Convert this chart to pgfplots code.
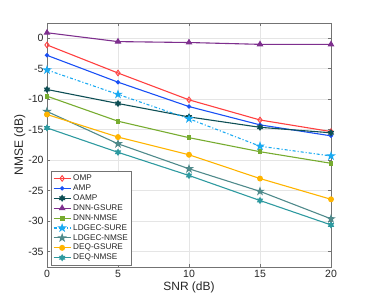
\documentclass[border=0pt]{standalone}
\usepackage{fontspec}
\setmainfont{Liberation Sans}
\usepackage{pgfplots}
\pgfplotsset{compat=1.18}
\usetikzlibrary{plotmarks,calc}
\definecolor{cOMP}{HTML}{FF4040}
\definecolor{cAMP}{HTML}{1A50F5}
\definecolor{cOAMP}{HTML}{0E4F55}
\definecolor{cDG}{HTML}{7E2F8E}
\definecolor{cDN}{HTML}{77AC30}
\definecolor{cLS}{HTML}{1AAAF2}
\definecolor{cLN}{HTML}{4F8A8B}
\definecolor{cQG}{HTML}{FFB400}
\definecolor{cQN}{HTML}{2E9AA0}
\pgfdeclareplotmark{fstar}{%
  \pgfpathmoveto{\pgfpointpolar{90}{1.3\pgfplotmarksize}}%
  \pgfpathlineto{\pgfpointpolar{126}{0.5\pgfplotmarksize}}%
  \pgfpathlineto{\pgfpointpolar{162}{1.3\pgfplotmarksize}}%
  \pgfpathlineto{\pgfpointpolar{198}{0.5\pgfplotmarksize}}%
  \pgfpathlineto{\pgfpointpolar{234}{1.3\pgfplotmarksize}}%
  \pgfpathlineto{\pgfpointpolar{270}{0.5\pgfplotmarksize}}%
  \pgfpathlineto{\pgfpointpolar{306}{1.3\pgfplotmarksize}}%
  \pgfpathlineto{\pgfpointpolar{342}{0.5\pgfplotmarksize}}%
  \pgfpathlineto{\pgfpointpolar{18}{1.3\pgfplotmarksize}}%
  \pgfpathlineto{\pgfpointpolar{54}{0.5\pgfplotmarksize}}%
  \pgfpathclose\pgfusepathqfillstroke}
\pgfdeclareplotmark{hstar}{%
  \pgfpathmoveto{\pgfpointpolar{90}{1.2\pgfplotmarksize}}%
  \pgfpathlineto{\pgfpointpolar{120}{0.7\pgfplotmarksize}}%
  \pgfpathlineto{\pgfpointpolar{150}{1.2\pgfplotmarksize}}%
  \pgfpathlineto{\pgfpointpolar{180}{0.7\pgfplotmarksize}}%
  \pgfpathlineto{\pgfpointpolar{210}{1.2\pgfplotmarksize}}%
  \pgfpathlineto{\pgfpointpolar{240}{0.7\pgfplotmarksize}}%
  \pgfpathlineto{\pgfpointpolar{270}{1.2\pgfplotmarksize}}%
  \pgfpathlineto{\pgfpointpolar{300}{0.7\pgfplotmarksize}}%
  \pgfpathlineto{\pgfpointpolar{330}{1.2\pgfplotmarksize}}%
  \pgfpathlineto{\pgfpointpolar{0}{0.7\pgfplotmarksize}}%
  \pgfpathlineto{\pgfpointpolar{30}{1.2\pgfplotmarksize}}%
  \pgfpathlineto{\pgfpointpolar{60}{0.7\pgfplotmarksize}}%
  \pgfpathclose\pgfusepathqfillstroke}
\begin{document}
\begin{tikzpicture}
\begin{axis}[
  name=ax,
  scale only axis,
  width=284pt, height=244pt,
  xmin=0, xmax=20, ymin=-37.5, ymax=2.5,
  xtick={0,5,10,15,20},
  ytick={-35,-30,-25,-20,-15,-10,-5,0},
  tick align=inside,
  tick pos=both,
  major tick length=3pt,
  grid=major,
  major grid style={draw=black!10, line width=0.5pt},
  axis line style={draw=black!55, line width=0.6pt},
  tick style={draw=black!55, line width=0.6pt},
  ticklabel style={font=\fontsize{10.5}{12}\selectfont, text=black!85},
  /pgf/number format/assume math mode=true,
  xlabel={SNR (dB)}, ylabel={NMSE (dB)},
  label style={font=\fontsize{12}{14}\selectfont, text=black!85},
  xlabel style={yshift=3pt},
  ylabel style={yshift=-4pt},
  every axis plot/.append style={line width=1.1pt, mark size=2.2pt},
  legend style={at={(axis cs:0.3,-37.2)}, anchor=south west,
    font=\fontsize{8.2}{10}\selectfont, draw=black!55, line width=0.6pt,
    fill=white, inner sep=1.5pt, row sep=-1.3pt,
    legend cell align=left, text=black!85},
  legend image post style={line width=1.1pt},
]
\addplot[color=cOMP, mark=diamond, mark options={solid, fill=white, line width=0.9pt}, mark size=2.8pt] coordinates {(0,-1.1) (5,-5.7) (10,-10.1) (15,-13.4) (20,-15.3)};
\addlegendentry{OMP}
\addplot[color=cAMP, mark=*, mark options={solid}, mark size=1.6pt] coordinates {(0,-2.8) (5,-7.2) (10,-11.2) (15,-14.2) (20,-16.0)};
\addlegendentry{AMP}
\addplot[color=cOAMP, mark=hstar, mark options={solid}] coordinates {(0,-8.4) (5,-10.7) (10,-12.9) (15,-14.6) (20,-15.5)};
\addlegendentry{OAMP}
\addplot[color=cDG, mark=triangle*, mark options={solid}, mark size=2.8pt] coordinates {(0,0.9) (5,-0.55) (10,-0.7) (15,-1.0) (20,-1.0)};
\addlegendentry{DNN-GSURE}
\addplot[color=cDN, mark=square*, mark options={solid}, mark size=1.9pt] coordinates {(0,-9.5) (5,-13.6) (10,-16.3) (15,-18.6) (20,-20.5)};
\addlegendentry{DNN-NMSE}
\addplot[color=cLS, dash dot, mark=fstar, mark options={solid}, mark size=2.5pt] coordinates {(0,-5.2) (5,-9.2) (10,-13.2) (15,-17.7) (20,-19.3)};
\addlegendentry{LDGEC-SURE}
\addplot[color=cLN, mark=fstar, mark options={solid}, mark size=2.5pt] coordinates {(0,-12.0) (5,-17.3) (10,-21.4) (15,-25.1) (20,-29.6)};
\addlegendentry{LDGEC-NMSE}
\addplot[color=cQG, mark=*, mark options={solid}, mark size=2.4pt] coordinates {(0,-12.5) (5,-16.2) (10,-19.1) (15,-23.0) (20,-26.4)};
\addlegendentry{DEQ-GSURE}
\addplot[color=cQN, mark=hstar, mark options={solid}] coordinates {(0,-14.7) (5,-18.7) (10,-22.5) (15,-26.6) (20,-30.6)};
\addlegendentry{DEQ-NMSE}
\end{axis}
\path[use as bounding box] ($(ax.south west)+(-47pt,-34pt)$) rectangle ($(ax.north east)+(35pt,23pt)$);
\end{tikzpicture}
\end{document}
